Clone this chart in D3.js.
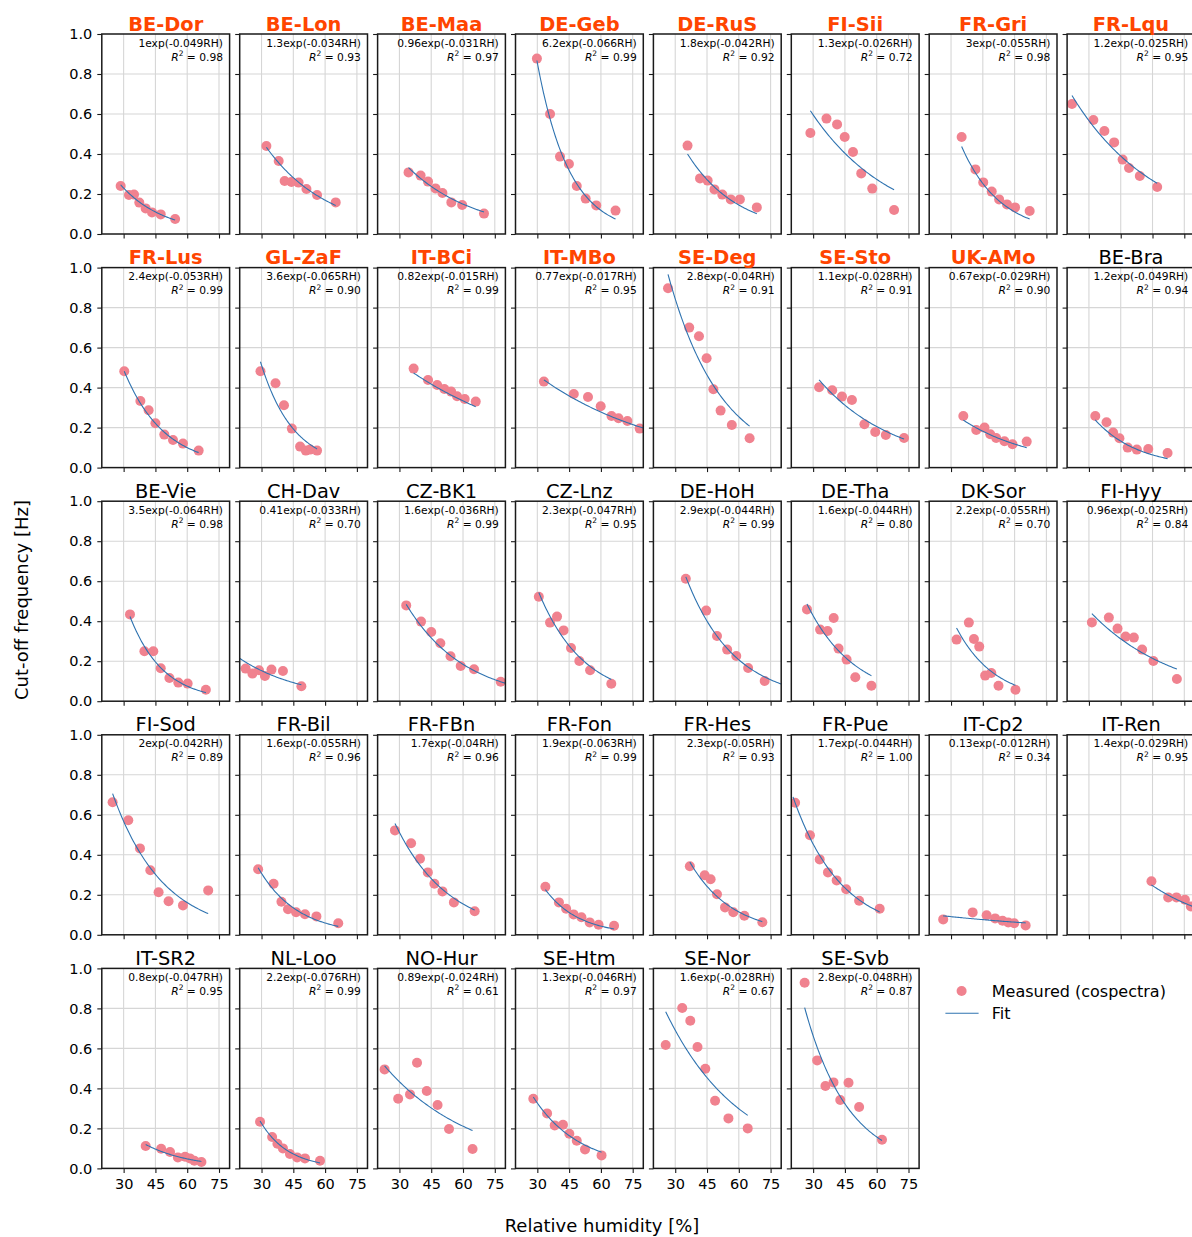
<!DOCTYPE html>
<html>
<head>
<meta charset="utf-8">
<script src="https://cdn.jsdelivr.net/npm/d3@7"></script>
<style>
  body { margin: 0; background: #ffffff; }
  svg { display: block; }
  text { font-family: "DejaVu Sans", sans-serif; }
</style>
</head>
<body>
<svg id="chart" width="1192" height="1237"></svg>
<script>
// ---------------- DATA ----------------
const sites = [
  "BE-Dor","BE-Lon","BE-Maa","DE-Geb","DE-RuS","FI-Sii","FR-Gri","FR-Lqu",
  "FR-Lus","GL-ZaF","IT-BCi","IT-MBo","SE-Deg","SE-Sto","UK-AMo","BE-Bra",
  "BE-Vie","CH-Dav","CZ-BK1","CZ-Lnz","DE-HoH","DE-Tha","DK-Sor","FI-Hyy",
  "FI-Sod","FR-Bil","FR-FBn","FR-Fon","FR-Hes","FR-Pue","IT-Cp2","IT-Ren",
  "IT-SR2","NL-Loo","NO-Hur","SE-Htm","SE-Nor","SE-Svb"
];
const highlightedSites = [
  "BE-Dor","BE-Lon","BE-Maa","DE-Geb","DE-RuS","FI-Sii","FR-Gri","FR-Lqu",
  "FR-Lus","GL-ZaF","IT-BCi","IT-MBo","SE-Deg","SE-Sto","UK-AMo"
];
// relative humidity [%] of the measured points, per site
const rhValues = [
  [28.6,32.5,34.9,37.4,40.4,43.4,47.5,54.3],
  [32.3,38.1,40.9,44.1,47.5,51.2,56.2,65.0],
  [34.3,40.0,43.5,47.0,50.3,54.5,59.6,69.9],
  [29.8,36.0,40.7,44.9,48.6,52.8,57.8,66.9],
  [35.8,41.7,45.3,48.5,52.2,56.2,60.5,68.5],
  [28.7,36.3,41.3,44.9,48.8,52.7,57.9,68.2],
  [35.0,41.5,45.2,49.2,52.7,56.4,60.2,67.1],
  [22.0,32.1,37.3,41.9,45.9,48.9,54.0,62.2],
  [30.3,37.9,41.8,45.0,49.2,53.3,58.0,65.4],
  [29.5,36.6,40.6,44.3,48.2,50.9,52.9,56.2],
  [36.7,43.5,47.8,51.2,54.4,57.2,60.8,66.0],
  [33.1,47.2,53.9,59.9,65.0,68.3,72.5,78.3],
  [26.6,36.6,41.2,44.8,48.0,51.4,56.7,65.1],
  [32.8,39.0,43.6,48.3,54.2,59.3,64.3,72.9],
  [35.8,41.9,45.8,48.5,51.3,55.2,59.0,65.7],
  [33.0,38.3,41.4,44.4,48.3,52.6,58.0,67.1],
  [33.0,39.8,44.0,47.5,51.6,55.8,60.2,68.8],
  [22.5,25.7,28.8,31.6,34.7,40.1,48.8],
  [33.2,40.2,45.0,49.3,54.1,58.9,65.2,77.8],
  [30.7,36.0,39.3,42.4,45.9,49.8,54.9,64.9],
  [35.0,44.6,49.7,54.5,58.8,64.4,72.2],
  [27.1,33.3,36.8,39.7,42.0,45.8,49.9,57.5],
  [32.6,38.4,40.8,43.3,46.1,49.0,52.4,60.4],
  [31.4,39.4,43.5,47.3,51.2,55.1,60.4,71.5],
  [24.8,32.2,37.7,42.6,46.5,51.2,58.0,69.9],
  [28.4,35.7,39.4,42.5,46.3,50.5,55.9,66.2],
  [27.9,35.5,39.7,43.4,46.5,50.3,55.7,65.5],
  [33.8,40.2,43.6,47.1,50.8,54.7,58.9,66.2],
  [36.9,43.9,46.7,49.7,53.5,57.4,62.6,71.1],
  [21.5,28.5,33.1,37.0,41.1,45.6,51.7,61.4],
  [26.3,40.2,46.8,50.8,54.3,57.0,59.8,65.2],
  [59.5,67.4,71.3,75.3,78.1],
  [40.4,47.7,51.9,55.6,59.0,61.3,63.4,66.7],
  [29.3,35.0,37.5,40.1,43.4,46.8,50.5,57.6],
  [23.0,29.4,35.0,38.3,42.9,48.0,53.4,64.5],
  [28.1,34.6,38.2,42.1,45.1,48.6,52.5,60.3],
  [25.5,33.3,37.1,40.5,44.2,48.8,55.1,64.2],
  [26.0,31.9,35.8,39.6,42.8,46.7,51.7,62.5]
];
// measured cut-off frequency [Hz], per site
const cutoffValues = [
  [0.240,0.195,0.197,0.157,0.128,0.108,0.098,0.075],
  [0.440,0.365,0.265,0.260,0.257,0.225,0.195,0.158],
  [0.308,0.292,0.262,0.228,0.205,0.158,0.145,0.102],
  [0.877,0.600,0.387,0.350,0.240,0.177,0.143,0.117],
  [0.442,0.278,0.267,0.223,0.197,0.173,0.173,0.133],
  [0.505,0.577,0.548,0.485,0.410,0.303,0.227,0.120],
  [0.485,0.323,0.258,0.212,0.173,0.148,0.133,0.115],
  [0.650,0.570,0.515,0.458,0.372,0.330,0.290,0.235],
  [0.482,0.333,0.287,0.222,0.165,0.138,0.120,0.085],
  [0.482,0.422,0.312,0.195,0.105,0.085,0.090,0.085],
  [0.495,0.438,0.413,0.393,0.380,0.357,0.343,0.330],
  [0.430,0.368,0.353,0.307,0.258,0.247,0.233,0.195],
  [0.897,0.700,0.657,0.547,0.392,0.285,0.213,0.147],
  [0.402,0.387,0.355,0.338,0.217,0.178,0.163,0.148],
  [0.258,0.188,0.200,0.167,0.148,0.132,0.117,0.130],
  [0.258,0.227,0.175,0.147,0.100,0.090,0.093,0.073],
  [0.434,0.250,0.250,0.165,0.116,0.093,0.088,0.057],
  [0.163,0.138,0.155,0.126,0.158,0.151,0.075],
  [0.479,0.398,0.346,0.290,0.225,0.176,0.160,0.097],
  [0.522,0.393,0.423,0.354,0.266,0.201,0.155,0.087],
  [0.612,0.453,0.326,0.258,0.226,0.166,0.101],
  [0.459,0.358,0.351,0.416,0.263,0.208,0.120,0.077],
  [0.308,0.393,0.311,0.273,0.128,0.141,0.077,0.057],
  [0.394,0.418,0.363,0.323,0.318,0.258,0.201,0.111],
  [0.663,0.573,0.432,0.323,0.213,0.168,0.147,0.222],
  [0.328,0.255,0.165,0.128,0.113,0.103,0.092,0.058],
  [0.522,0.458,0.380,0.312,0.255,0.217,0.162,0.118],
  [0.240,0.162,0.130,0.102,0.088,0.062,0.050,0.045],
  [0.343,0.298,0.278,0.203,0.137,0.113,0.095,0.063],
  [0.660,0.498,0.377,0.312,0.272,0.228,0.170,0.130],
  [0.077,0.112,0.098,0.082,0.070,0.062,0.058,0.047],
  [0.268,0.187,0.187,0.175,0.142],
  [0.112,0.098,0.082,0.055,0.058,0.050,0.038,0.032],
  [0.233,0.157,0.123,0.100,0.072,0.055,0.050,0.038],
  [0.495,0.348,0.370,0.528,0.387,0.317,0.197,0.097],
  [0.348,0.275,0.215,0.218,0.173,0.138,0.095,0.065],
  [0.617,0.802,0.738,0.607,0.498,0.338,0.250,0.200],
  [0.928,0.540,0.412,0.430,0.342,0.428,0.307,0.143]
];
// fit coefficients as printed in each panel: a*exp(b*RH)
const fitA = [1,1.3,0.96,6.2,1.8,1.3,3,1.2, 2.4,3.6,0.82,0.77,2.8,1.1,0.67,1.2,
              3.5,0.41,1.6,2.3,2.9,1.6,2.2,0.96, 2,1.6,1.7,1.9,2.3,1.7,0.13,1.4,
              0.8,2.2,0.89,1.3,1.6,2.8];
const fitB = [-0.049,-0.034,-0.031,-0.066,-0.042,-0.026,-0.055,-0.025,
              -0.053,-0.065,-0.015,-0.017,-0.04,-0.028,-0.029,-0.049,
              -0.064,-0.033,-0.036,-0.047,-0.044,-0.044,-0.055,-0.025,
              -0.042,-0.055,-0.04,-0.063,-0.05,-0.044,-0.012,-0.029,
              -0.047,-0.076,-0.024,-0.046,-0.028,-0.048];
const r2Values = [0.98,0.93,0.97,0.99,0.92,0.72,0.98,0.95, 0.99,0.90,0.99,0.95,0.91,0.91,0.90,0.94,
                  0.98,0.70,0.99,0.95,0.99,0.80,0.70,0.84, 0.89,0.96,0.96,0.99,0.93,1.00,0.34,0.95,
                  0.95,0.99,0.61,0.97,0.67,0.87];
// RH range covered by the fitted line in each panel
const fitStart = [28.6,32.3,34.3,29.8,35.8,28.7,35.0,22.0, 30.3,29.5,36.7,33.1,26.6,32.8,35.8,33.0,
                  33.0,19.7,33.2,30.7,35.0,27.1,32.6,31.4, 24.8,28.4,27.9,33.8,36.9,20.5,26.3,59.5,
                  40.4,29.3,23.0,28.1,25.5,26.0];
const fitEnd   = [54.3,65.0,69.9,66.9,68.5,68.2,67.1,62.2, 65.4,56.2,66.0,80.0,65.1,72.9,65.7,67.1,
                  68.8,48.8,80.0,64.9,80.0,57.5,60.4,71.5, 69.9,66.2,65.5,66.2,71.1,61.4,65.2,80.0,
                  66.7,57.6,64.5,60.3,64.2,62.5];
const xTicks = [30, 45, 60, 75];
const yTicks = [0.0, 0.2, 0.4, 0.6, 0.8, 1.0];
const xDomain = [19.7, 80];
const yDomain = [0, 1];
const legendLabels = ["Measured (cospectra)", "Fit"];
const axisLabels = { x: "Relative humidity [%]", y: "Cut-off frequency [Hz]" };

// ---------------- LAYOUT / STYLE ----------------
const FONT = '"DejaVu Sans", sans-serif';
const W = 127.8, H = 200;
const left0 = 101.8, pitchX = 137.9;
const top0 = 34, pitchY = 233.6;
const nCols = 8, nRows = 5;
const pointColor = "#f0828f";
const lineColor = "#2f73b0";
const gridColor = "#d6d6d6";
const spineColor = "#1a1a1a";

const svg = d3.select("#chart");
svg.append("rect").attr("width", 1192).attr("height", 1237).attr("fill", "#fff");

const x = d3.scaleLinear().domain(xDomain).range([0, W]);
const y = d3.scaleLinear().domain(yDomain).range([H, 0]);

sites.forEach((name, i) => {
  const col = i % nCols, row = Math.floor(i / nCols);
  const g = svg.append("g")
    .attr("transform", `translate(${left0 + col * pitchX},${top0 + row * pitchY})`);

  // grid
  g.append("g").selectAll("line").data(xTicks).join("line")
    .attr("x1", d => x(d)).attr("x2", d => x(d)).attr("y1", 0).attr("y2", H)
    .attr("stroke", gridColor).attr("stroke-width", 1.1);
  g.append("g").selectAll("line").data(yTicks.filter(v => v > 0 && v < 1)).join("line")
    .attr("x1", 0).attr("x2", W).attr("y1", d => y(d)).attr("y2", d => y(d))
    .attr("stroke", gridColor).attr("stroke-width", 1.1);

  // clipped plot area
  const cid = "clip" + i;
  g.append("clipPath").attr("id", cid).append("rect").attr("width", W).attr("height", H);
  const plot = g.append("g").attr("clip-path", `url(#${cid})`);

  const pts = rhValues[i].map((r, k) => ({ rh: r, fc: cutoffValues[i][k] }));
  plot.selectAll("circle").data(pts).join("circle")
    .attr("cx", d => x(d.rh)).attr("cy", d => y(d.fc)).attr("r", 5)
    .attr("fill", pointColor);

  // fitted curve from the coefficients printed in the panel
  const a = fitA[i], b = fitB[i];
  const steps = 60;
  const rhSamples = d3.range(steps + 1).map(k => fitStart[i] + (fitEnd[i] - fitStart[i]) * k / steps);
  const line = d3.line().x(r => x(r)).y(r => y(a * Math.exp(b * r)));
  plot.append("path").attr("d", line(rhSamples))
    .attr("fill", "none").attr("stroke", lineColor).attr("stroke-width", 1.1);

  // axes
  const ya = d3.axisLeft(y).tickValues(yTicks).tickSize(4.5).tickPadding(5)
    .tickFormat(col === 0 ? d3.format(".1f") : () => "");
  const xa = d3.axisBottom(x).tickValues(xTicks).tickSize(4.5).tickPadding(6)
    .tickFormat(row === nRows - 1 ? d3.format("d") : () => "");
  const yg = g.append("g").call(ya);
  const xg = g.append("g").attr("transform", `translate(0,${H})`).call(xa);
  [yg, xg].forEach(ax => {
    ax.select(".domain").remove();
    ax.attr("font-family", FONT).attr("font-size", 14.5);
    ax.selectAll(".tick line").attr("stroke", spineColor).attr("stroke-width", 1.1);
    ax.selectAll(".tick text").attr("fill", "#000");
  });

  // frame
  g.append("rect").attr("width", W).attr("height", H)
    .attr("fill", "none").attr("stroke", spineColor).attr("stroke-width", 1.5);

  // title
  const hl = highlightedSites.includes(name);
  g.append("text").attr("x", W / 2).attr("y", -3.5).attr("text-anchor", "middle")
    .attr("font-family", FONT).attr("font-size", 19.4)
    .attr("font-weight", hl ? "bold" : "normal")
    .attr("fill", hl ? "#ff4500" : "#000").text(name);

  // equation + R²
  g.append("text").attr("x", W - 6.6).attr("y", 12.5).attr("text-anchor", "end")
    .attr("font-family", FONT).attr("font-size", 10.7).attr("fill", "#000")
    .text(`${a}exp(${b}RH)`);
  const t2 = g.append("text").attr("x", W - 6.6).attr("y", 26.5).attr("text-anchor", "end")
    .attr("font-family", FONT).attr("font-size", 10.7).attr("fill", "#000");
  t2.append("tspan").attr("font-style", "italic").text("R");
  t2.append("tspan").attr("font-size", 7.5).attr("dy", -4.5).text("2");
  t2.append("tspan").attr("dy", 4.5).text(" = " + r2Values[i].toFixed(2));
});

// legend
const lg = svg.append("g");
lg.append("circle").attr("cx", 961.6).attr("cy", 991).attr("r", 5).attr("fill", pointColor);
lg.append("text").attr("x", 991.8).attr("y", 996.7).attr("font-family", FONT)
  .attr("font-size", 16).attr("fill", "#000").text(legendLabels[0]);
lg.append("line").attr("x1", 945.4).attr("x2", 978.6).attr("y1", 1013.3).attr("y2", 1013.3)
  .attr("stroke", lineColor).attr("stroke-width", 1.1);
lg.append("text").attr("x", 991.8).attr("y", 1019).attr("font-family", FONT)
  .attr("font-size", 16).attr("fill", "#000").text(legendLabels[1]);

// axis labels
svg.append("text").attr("x", 602).attr("y", 1232).attr("text-anchor", "middle")
  .attr("font-family", FONT).attr("font-size", 18).attr("fill", "#000").text(axisLabels.x);
svg.append("text").attr("transform", "translate(27.8,600) rotate(-90)").attr("text-anchor", "middle")
  .attr("font-family", FONT).attr("font-size", 18).attr("fill", "#000").text(axisLabels.y);
</script>
</body>
</html>
